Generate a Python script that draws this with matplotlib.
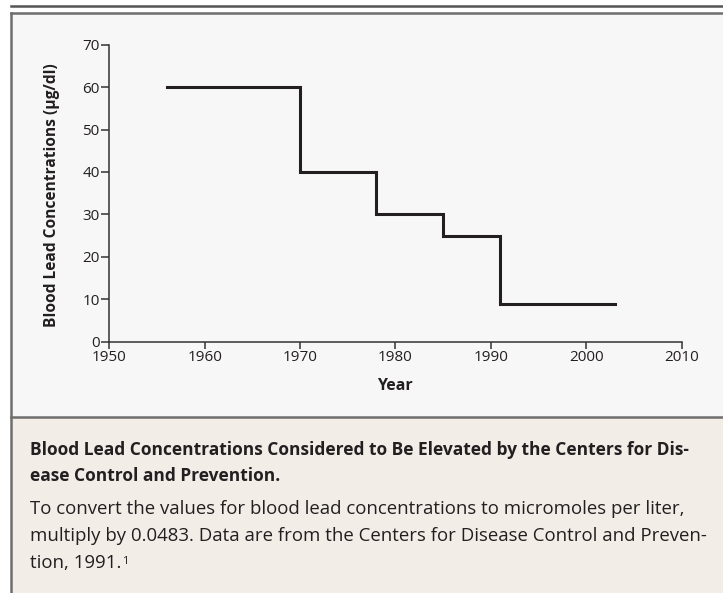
import matplotlib.pyplot as plt
from matplotlib.patches import Rectangle
from matplotlib.lines import Line2D

# step data: start year of each level, plus end year
years = [1956, 1970, 1978, 1985, 1991, 2003]
levels = [60, 40, 30, 25, 9]

xticks = [1950, 1960, 1970, 1980, 1990, 2000, 2010]
yticks = [0, 10, 20, 30, 40, 50, 60, 70]

title_lines = ["Blood Lead Concentrations Considered to Be Elevated by the Centers for Dis-",
               "ease Control and Prevention."]
body_lines = ["To convert the values for blood lead concentrations to micromoles per liter,",
              "multiply by 0.0483. Data are from the Centers for Disease Control and Preven-",
              "tion, 1991."]

plt.rcParams['font.family'] = ['Open Sans', 'DejaVu Sans']
ink = '#231f20'

W, H = 723, 593
fig = plt.figure(figsize=(W / 100, H / 100), dpi=100)
fig.patch.set_facecolor('white')

def fx(px):
    return px / W

def fy(py):
    return 1 - py / H

# panels
fig.patches.append(Rectangle((fx(11), fy(417)), 1, fy(13) - fy(417), transform=fig.transFigure,
                             facecolor='#f7f7f7', edgecolor='none', zorder=-10))
fig.patches.append(Rectangle((fx(11), 0), 1, fy(417), transform=fig.transFigure,
                             facecolor='#f2ede7', edgecolor='none', zorder=-10))
# borders
for xs, ys, c in [([fx(11), 1], [fy(6), fy(6)], '#555555'),
                  ([fx(11), 1], [fy(13), fy(13)], '#6e6e6e'),
                  ([fx(11), 1], [fy(417), fy(417)], '#6e6e6e'),
                  ([fx(11), fx(11)], [0, fy(13)], '#6e6e6e')]:
    fig.lines.append(Line2D(xs, ys, transform=fig.transFigure, color=c, lw=1.8, zorder=-5))

ax = fig.add_axes([fx(109.3), fy(341.7), fx(681.5) - fx(109.3), fy(44.7) - fy(341.7)])
ax.patch.set_alpha(0)
ax.step(years, levels + [levels[-1]], where='post', color=ink, lw=2.2, solid_joinstyle='miter')

ax.set_xlim(1950, 2010)
ax.set_ylim(0, 70)
ax.set_xticks(xticks)
ax.set_yticks(yticks)
for s in ['top', 'right']:
    ax.spines[s].set_visible(False)
for s in ['left', 'bottom']:
    ax.spines[s].set_color('#333333')
    ax.spines[s].set_linewidth(1.1)
ax.tick_params(direction='out', width=1.1, color='#333333',
               labelsize=11, labelcolor=ink, pad=1)
ax.tick_params(axis='y', length=6)
ax.tick_params(axis='x', length=5)

ax.set_xlabel('Year', fontsize=11.5, fontweight='bold', color=ink, labelpad=9)
fig.text(fx(52), fy(195), 'Blood Lead Concentrations (\u00b5g/dl)', rotation=90,
         ha='center', va='center', fontsize=11.2, fontweight='bold', color=ink)

# caption, lines sized so they span about the same width as in the reference
fig.canvas.draw()
renderer = fig.canvas.get_renderer()
x0 = 30

def put(lines, ys, ends, weight):
    size = 12.5
    out = [fig.text(fx(x0), fy(py), txt, ha='left', va='center', fontsize=size,
                    fontweight=weight, color=ink) for txt, py in zip(lines, ys)]
    ratios = [(e - x0) / t.get_window_extent(renderer).width
              for t, e in zip(out, ends) if e is not None]
    size = size * sum(ratios) / len(ratios)
    for t in out:
        t.set_fontsize(size)
    return out, size

put(title_lines, [450, 476], [689, None], 'bold')
body, bsize = put(body_lines, [509, 536, 563], [694, 698, None], 'normal')

fig.canvas.draw()
bb = body[-1].get_window_extent()
fig.text((bb.x1 + 1) / W, fy(562), '1', ha='left', va='center',
         fontsize=bsize * 0.6, color=ink)

fig.savefig('out.png', dpi=100, facecolor=fig.get_facecolor())
